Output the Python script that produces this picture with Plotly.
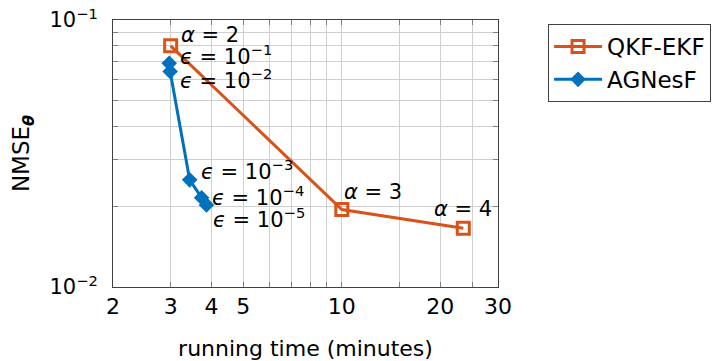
import numpy as np
import plotly.graph_objects as go

# ---- data ----
qkf_time = [3.0, 10.0, 23.5]
qkf_nmse = [0.080, 0.0195, 0.0166]
qkf_labels = ["<i>α</i> = 2", "<i>α</i> = 3", "<i>α</i> = 4"]

agn_time = [2.97, 2.99, 3.43, 3.73, 3.86]
agn_nmse = [0.0689, 0.0641, 0.0252, 0.0216, 0.0203]
agn_labels = ["<i>ϵ</i> = 10<sup>−1</sup>", "<i>ϵ</i> = 10<sup>−2</sup>", "<i>ϵ</i> = 10<sup>−3</sup>",
              "<i>ϵ</i> = 10<sup>−4</sup>", "<i>ϵ</i> = 10<sup>−5</sup>"]

x_grid = [2, 3, 4, 5, 6, 7, 8, 9, 10, 15, 20, 25, 30]
x_labeled = {2: "2", 3: "3", 4: "4", 5: "5", 10: "10", 20: "20", 30: "30"}
y_grid = [0.01, 0.02, 0.03, 0.04, 0.05, 0.06, 0.07, 0.08, 0.09, 0.1]
y_labeled = {0.01: "10<sup>−2</sup>", 0.1: "10<sup>−1</sup>"}

ORANGE = "#D95319"
BLUE = "#0072BD"
FONT = "DejaVu Sans"

fig = go.Figure()
fig.add_trace(go.Scatter(
    x=qkf_time, y=qkf_nmse, name="QKF-EKF", mode="lines+markers",
    line=dict(color=ORANGE, width=3),
    marker=dict(symbol="square-open", size=12, color=ORANGE, line=dict(width=3, color=ORANGE)),
))
fig.add_trace(go.Scatter(
    x=agn_time, y=agn_nmse, name="AGNesF", mode="lines+markers",
    line=dict(color=BLUE, width=3),
    marker=dict(symbol="diamond", size=12, color=BLUE),
))

# annotations next to points (offsets in px)
qkf_off = [(8, 11, "left"), (0, 18, "left"), (0, 19, "center")]
for xv, yv, t, (dx, dy, xa) in zip(qkf_time, qkf_nmse, qkf_labels, qkf_off):
    fig.add_annotation(x=np.log10(xv), y=np.log10(yv), text=t, showarrow=False,
                       xanchor=xa, yanchor="middle", xshift=dx, yshift=dy,
                       font=dict(family=FONT, size=21, color="black"))
agn_off = [(9, 8, "left"), (8, -7, "left"), (9, 10, "left"), (8, 2, "left"), (5, -13, "left")]
for xv, yv, t, (dx, dy, xa) in zip(agn_time, agn_nmse, agn_labels, agn_off):
    fig.add_annotation(x=np.log10(xv), y=np.log10(yv), text=t, showarrow=False,
                       xanchor=xa, yanchor="middle", xshift=dx, yshift=dy,
                       font=dict(family=FONT, size=21, color="black"))

fig.update_layout(
    width=719, height=353,
    margin=dict(l=105, r=229, t=12, b=74, autoexpand=False),
    paper_bgcolor="white", plot_bgcolor="white",
    font=dict(family=FONT, size=20, color="black"),
    showlegend=True,
    legend=dict(x=1.13, y=0.985, xanchor="left", yanchor="top",
                bordercolor="#404040", borderwidth=1, bgcolor="white",
                font=dict(family=FONT, size=23), tracegroupgap=0,
                itemwidth=48),
)
fig.update_xaxes(
    type="log", range=[np.log10(2), np.log10(30)],
    tickvals=x_grid, ticktext=[x_labeled.get(v, "") for v in x_grid],
    showgrid=True, gridcolor="#cfcfcf", gridwidth=1,
    ticks="inside", ticklen=5, tickcolor="#808080",
    showline=True, linecolor="#404040", linewidth=1, mirror="ticks",
    tickfont=dict(family=FONT, size=22), automargin=False, ticklabeloverflow="allow",
    title=dict(text="running time (minutes)", font=dict(family=FONT, size=22), standoff=22),
    zeroline=False,
)
fig.update_yaxes(
    type="log", range=[-2, -1],
    tickvals=y_grid, ticktext=[y_labeled.get(v, "") for v in y_grid],
    showgrid=True, gridcolor="#cfcfcf", gridwidth=1,
    ticks="inside", ticklen=5, tickcolor="#808080",
    showline=True, linecolor="#404040", linewidth=1, mirror="ticks",
    tickfont=dict(family=FONT, size=21), automargin=False, ticklabelstandoff=10,
    ticklabeloverflow="allow",
    title=dict(text="NMSE<sub><b><i>θ</i></b></sub>", font=dict(family=FONT, size=23), standoff=15),
    zeroline=False,
)

fig.write_html("out.html")
